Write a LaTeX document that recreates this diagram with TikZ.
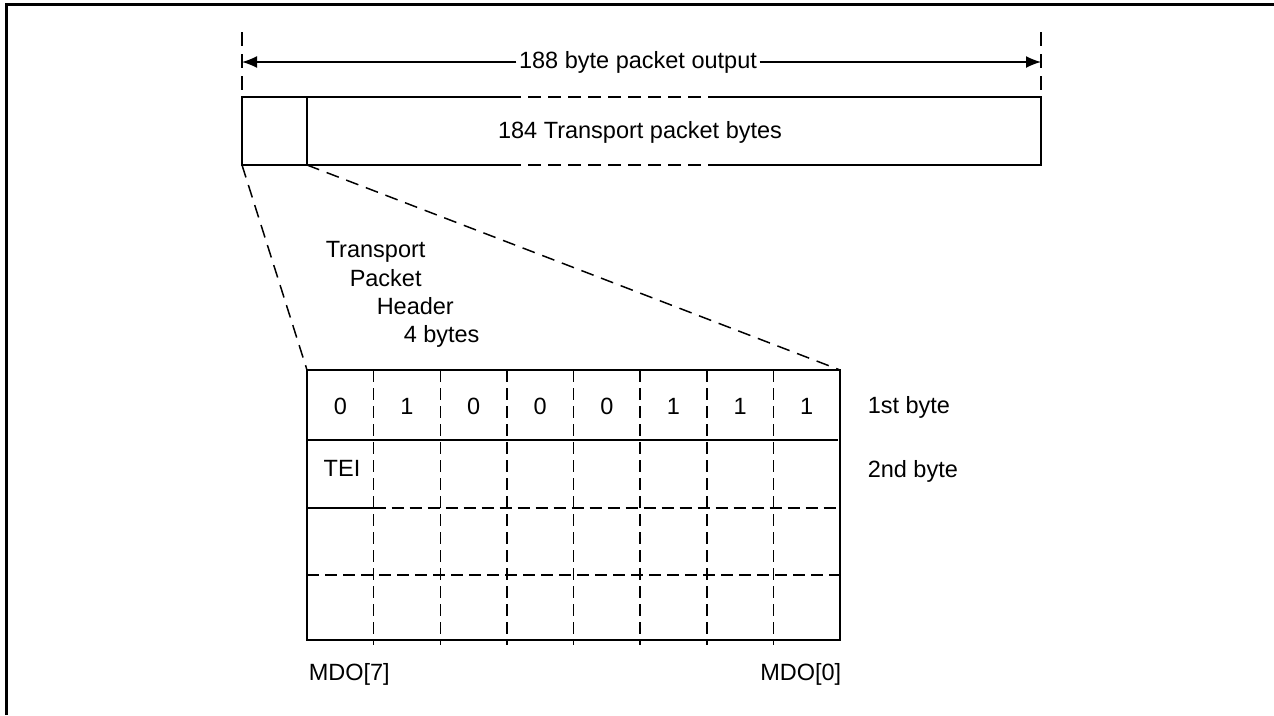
\documentclass[tikz,border=0pt]{standalone}
\usepackage{fontspec}
\setmainfont{Liberation Sans}
\usetikzlibrary{arrows.meta}
\begin{document}
\begin{tikzpicture}[x=1pt,y=-1pt,line width=1.5pt,
  txt/.style={font=\fontsize{23.5}{28}\selectfont,inner sep=0pt},
  dsh/.style={dash pattern=on 12pt off 6pt},
  tip/.style={-{Latex[length=15pt,width=12pt]}}]
\useasboundingbox (0,0) rectangle (1274,715);
% frame
\draw[line width=3pt] (6,715) coordinate (fb) -- (6,4) coordinate (fc) -- (1274,4) coordinate (fr);
% dimension lines
\coordinate (dLt) at (242,32); \coordinate (dLb) at (242,92);
\coordinate (dRt) at (1041,32); \coordinate (dRb) at (1041,92);
\draw[dash pattern=on 14pt off 8pt] (dLt) -- (dLb);
\draw[dash pattern=on 14pt off 8pt] (dRt) -- (dRb);
\coordinate (aL) at (242,62); \coordinate (aR) at (1041,62);
\node[txt,fill=white,inner xsep=2pt,inner ysep=2pt] (lbl) at (638,62) {188 byte packet output};
\draw[tip] (lbl.west) -- (aL);
\draw[tip] (lbl.east) -- (aR);
% top packet
\coordinate (p1) at (242,97); \coordinate (p2) at (307,97);
\coordinate (p3) at (508,97); \coordinate (p4) at (720,97);
\coordinate (p5) at (1041,97);
\coordinate (q1) at (242,165); \coordinate (q2) at (307,165);
\coordinate (q3) at (508,165); \coordinate (q4) at (720,165);
\coordinate (q5) at (1041,165);
\draw (p3) -- (p1) -- (q1) -- (q3);
\draw (p4) -- (p5) -- (q5) -- (q4);
\draw[dash pattern=on 13pt off 7pt] (p3) -- (p4);
\draw[dash pattern=on 13pt off 7pt] (q3) -- (q4);
\draw (p2) -- (q2);
\node[txt,anchor=base] (tp) at (640,138) {184 Transport packet bytes};
% grid
\def\gx{307}\def\gw{66.625}
\coordinate (g1) at (307,370); \coordinate (g2) at (840,370);
\coordinate (g3) at (840,640); \coordinate (g4) at (307,640);
\draw[dash pattern=on 13pt off 8pt] (q1) -- (g1);
\draw[dash pattern=on 13pt off 8pt] (q2) -- (g2);
\draw (g1) rectangle (g3);
\foreach \i in {1,...,7}{
  \draw[dsh] ({\gx+\i*\gw},370) -- ({\gx+\i*\gw},645);
}
\coordinate (r1a) at (307,440); \coordinate (r1b) at (838,440);
\draw (r1a) -- (r1b);
\coordinate (r2a) at (307,508); \coordinate (r2m) at ({\gx+\gw},508); \coordinate (r2b) at (840,508);
\draw (r2a) -- (r2m);
\draw[dsh] (r2m) -- (r2b);
\coordinate (r3a) at (307,575); \coordinate (r3b) at (840,575);
\draw[dsh] (r3a) -- (r3b);
\foreach \b [count=\i from 0] in {0,1,0,0,0,1,1,1}{
  \node[txt,anchor=base] (b\i) at ({\gx+(\i+0.5)*\gw},414) {\b};
}
\node[txt,anchor=base] (tei) at (342,476) {TEI};
\node[txt,anchor=base west] (st) at (867,413) {1st byte};
\node[txt,anchor=base west] (nd) at (867,477) {2nd byte};
\node[txt,anchor=base west] (m7) at (308,680) {MDO[7]};
\node[txt,anchor=base east] (m0) at (842,680) {MDO[0]};
% header label
\node[txt,anchor=base west] (h1) at (325,257) {Transport};
\node[txt,anchor=base west] (h2) at (349,286) {Packet};
\node[txt,anchor=base west] (h3) at (376,314) {Header};
\node[txt,anchor=base west] (h4) at (403,342) {4 bytes};
\end{tikzpicture}
\end{document}
